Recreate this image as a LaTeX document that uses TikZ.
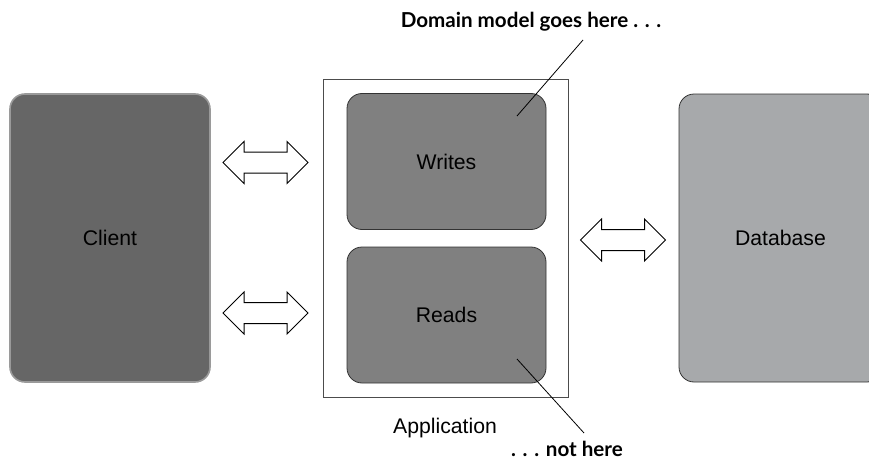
\documentclass[tikz,border=0pt]{standalone}
\usepackage{fontspec}
\setmainfont{Liberation Sans}
\newfontfamily\notefont{Lato}
\usetikzlibrary{shapes.arrows}

\definecolor{clientgray}{HTML}{666666}
\definecolor{clientedge}{HTML}{9A9A9A}
\definecolor{partgray}{HTML}{808080}
\definecolor{dbgray}{HTML}{A7A9AB}
\definecolor{edgegray}{HTML}{333333}

\begin{document}
\begin{tikzpicture}[
        x=0.5pt, y=-0.5pt,
        every node/.style={font=\fontsize{10.6}{12}\selectfont},
        box/.style={rounded corners=7.5pt, minimum width=100pt, minimum height=144pt, inner sep=0pt},
        part/.style={draw=edgegray, fill=partgray, rounded corners=7.5pt, minimum width=99.5pt, minimum height=68pt, inner sep=0pt},
        swap/.style={double arrow, draw=black, fill=white, line width=0.5pt, minimum height=42.5pt, inner xsep=0pt, inner ysep=5pt, double arrow head extend=5.25pt},
        note/.style={font=\notefont\bfseries\fontsize{10.3}{12}\selectfont},
        leader/.style={draw=black, line width=0.4pt}
    ]
        \path[use as bounding box, clip] (0,0) rectangle (869,466);

        % client and database
        \node[box, draw=clientedge, fill=clientgray, line width=0.8pt] (client) at (110,238) {Client};
        \node[box, draw=edgegray, fill=dbgray, minimum width=101.5pt] (db) at (780.5,238) {Database};

        % application with its two halves
        \node[draw=black!70, fill=white, minimum width=122.5pt, minimum height=159pt, inner sep=0pt] (app) at (445.5,238) {};
        \node[part] (writes) at (446.5,161.5) {Writes};
        \node[part] (reads) at (446.5,315) {Reads};
        \node (applabel) at (445,428) {Application};

        % two-way arrows
        \node[swap] (cw) at (265.5,162.5) {};
        \node[swap] (cr) at (265.5,313) {};
        \node[swap] (adb) at (623,240) {};

        % notes
        \node[note] (here) at (531,22) {Domain model goes here . . .};
        \node[note] (nothere) at (567,449) {. . . not here};
        \coordinate (herein) at (517,116);
        \coordinate (heretop) at (583,40);
        \coordinate (nothin) at (517,359);
        \coordinate (nothbot) at (584,433);
        \draw[leader] (heretop) -- (herein);
        \draw[leader] (nothin) -- (nothbot);
    \end{tikzpicture}
\end{document}
